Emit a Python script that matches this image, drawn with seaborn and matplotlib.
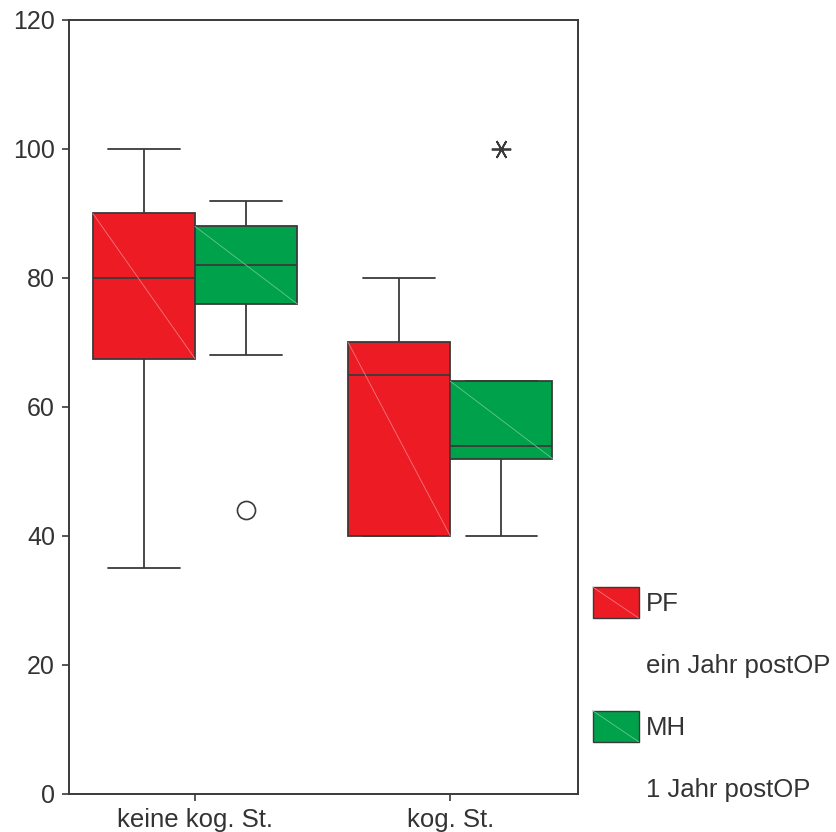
import numpy as np
import pandas as pd
import matplotlib
matplotlib.use("Agg")
import matplotlib.pyplot as plt
import matplotlib.colors as mcolors
from matplotlib.patches import Rectangle
from matplotlib.lines import Line2D
from matplotlib.legend_handler import HandlerPatch
import seaborn as sns

# data (values chosen so the box stats match)
groups = ["keine kog. St.", "kog. St."]
series = ["PF", "MH"]
series_sub = ["ein Jahr postOP", "1 Jahr postOP"]
pf_keine = [35, 67.5, 80, 90, 100]
mh_keine = [44, 68, 76, 80, 82, 84, 88, 90, 92]
pf_kog = [40, 40, 65, 70, 80]
mh_kog = [40, 52, 54, 64, 100]
y_ticks = [0, 20, 40, 60, 80, 100, 120]

colors = {"PF": "#ED1C24", "MH": "#00A14B"}
edge = "#3a3a3a"
txt = "#333333"

rows = []
for g, s, vals in [(groups[0], "PF", pf_keine), (groups[0], "MH", mh_keine),
                   (groups[1], "PF", pf_kog), (groups[1], "MH", mh_kog)]:
    for v in vals:
        rows.append({"group": g, "series": s, "value": v})
df = pd.DataFrame(rows)

sns.set_theme(style="ticks")
plt.rcParams["font.family"] = ["Liberation Sans", "DejaVu Sans"]

fig = plt.figure(figsize=(8.37, 8.32), dpi=100)
ax = fig.add_axes([0.0824, 0.0457, 0.6082, 0.9303])

sns.boxplot(data=df, x="group", y="value", hue="series", order=groups,
            hue_order=series, palette=colors, saturation=1, width=0.8, gap=0,
            linecolor=edge, linewidth=1.3, whis=1.5, capwidths=0.28,
            flierprops=dict(marker="o", markersize=13, markerfacecolor="white",
                            markeredgecolor=edge, markeredgewidth=1.2),
            legend=False, ax=ax)

# SPSS style: values beyond 3 IQR are drawn as asterisk
extremes = set()
for (g, s), sub in df.groupby(["group", "series"]):
    q1, q3 = np.percentile(sub["value"], [25, 75])
    iqr = q3 - q1
    for v in sub["value"]:
        if v >= q3 + 3 * iqr or v <= q1 - 3 * iqr:
            extremes.add(v)
for ln in ax.lines:
    yd = np.asarray(ln.get_ydata(), dtype=float)
    if ln.get_marker() == "o" and len(yd) and all(v in extremes for v in yd):
        ln.set_marker((6, 2, 90))
        ln.set_markersize(14)
        ln.set_markeredgewidth(1.3)

# faint diagonal in each box, top-left to bottom-right
for p in list(ax.patches):
    verts = p.get_path().vertices
    x0, y0 = verts.min(axis=0)
    x1, y1 = verts.max(axis=0)
    fc = np.array(mcolors.to_rgb(p.get_facecolor()))
    light = fc + (1 - fc) * 0.4
    ax.plot([x0, x1], [y1, y0], color=light, lw=0.6, zorder=p.get_zorder() + 0.1)

ax.set_xlim(-0.4935, 1.5005)
ax.set_ylim(0, 120)
ax.set_yticks(y_ticks)
ax.set_xlabel("")
ax.set_ylabel("")
for sp in ax.spines.values():
    sp.set_visible(True)
    sp.set_color(edge)
    sp.set_linewidth(1.4)
ax.tick_params(axis="both", direction="out", length=5, width=1.2, color=edge,
               labelcolor=txt, pad=5)
ax.tick_params(axis="x", labelsize=18.5)
ax.tick_params(axis="y", labelsize=18)


class DiagHandler(HandlerPatch):
    def create_artists(self, legend, orig_handle, xdescent, ydescent,
                       width, height, fontsize, trans):
        fc = np.array(mcolors.to_rgb(orig_handle.get_facecolor()))
        r = Rectangle((-xdescent, -ydescent), width, height, facecolor=fc,
                      edgecolor=edge, lw=1.0, transform=trans)
        ln = Line2D([-xdescent, -xdescent + width], [-ydescent + height, -ydescent],
                    color=fc + (1 - fc) * 0.4, lw=0.6, transform=trans)
        return [r, ln]


handles, labels = [], []
for s, sub in zip(series, series_sub):
    handles.append(Rectangle((0, 0), 1, 1, facecolor=colors[s]))
    labels.append(s)
    handles.append(Rectangle((0, 0), 1, 1, alpha=0))
    labels.append(sub)

hmap = {h: DiagHandler() for h in handles[::2]}
leg = fig.legend(handles, labels, loc="upper left", bbox_to_anchor=(0.708, 0.2945),
                 frameon=False, fontsize=18.5, handlelength=1.79, handleheight=1.48,
                 handletextpad=0.28, labelspacing=1.2, borderpad=0,
                 borderaxespad=0, handler_map=hmap)
for t in leg.get_texts():
    t.set_color(txt)

fig.savefig("out.png", dpi=100)
